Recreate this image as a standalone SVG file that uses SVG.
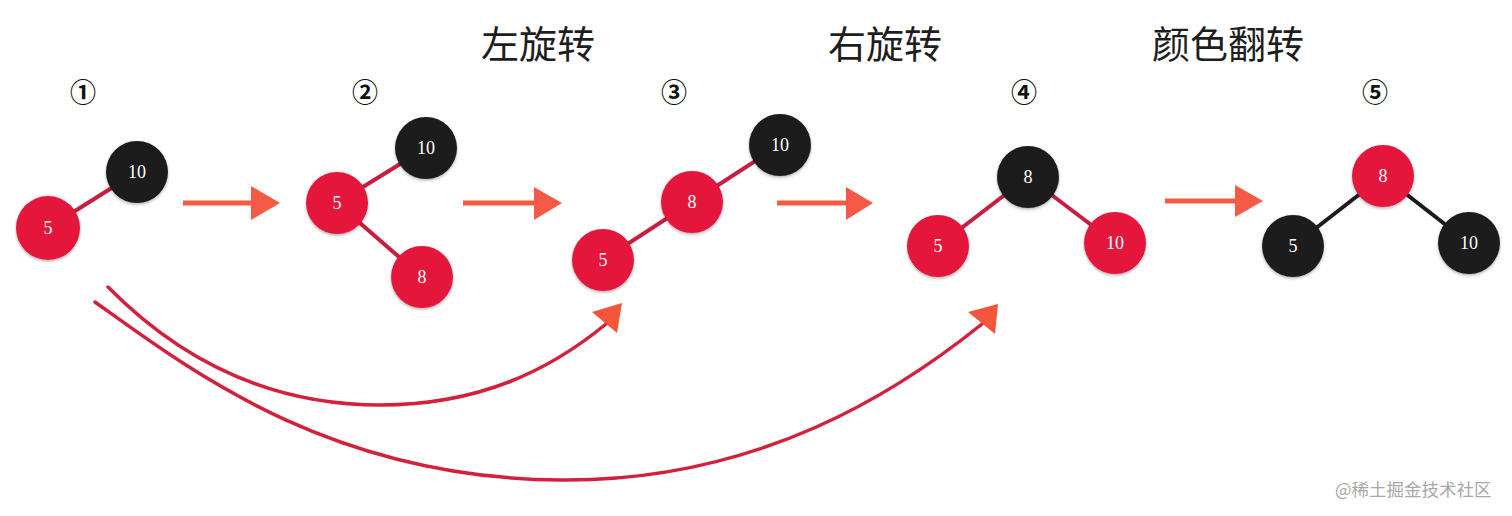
<svg xmlns="http://www.w3.org/2000/svg" width="1512" height="516" viewBox="0 0 1512 516">
<style>
.title{font-family:"Noto Sans CJK SC","Noto Sans",sans-serif;font-size:38px;fill:#1e1e1e;}
.step{font-family:"Noto Sans CJK SC","DejaVu Sans",sans-serif;font-size:26px;font-weight:bold;fill:#111;text-anchor:middle;}
.red{fill:#e4173b;}
.blk{fill:#1b1b1b;}
.lbl{font-family:"Liberation Serif",serif;font-size:18px;fill:#fff;text-anchor:middle;dominant-baseline:central;}
.eR{stroke:#c81d3f;stroke-width:4;}
.eB{stroke:#1b1b1b;stroke-width:4;}
.sa{stroke:#f45a45;stroke-width:5;fill:none;}
.sh{fill:#f45a45;}
.cv{stroke:#d3213c;stroke-width:3.5;fill:none;stroke-linecap:round;}
.ch{fill:#f4553b;}
.wm{font-family:"Noto Sans CJK SC","Noto Sans",sans-serif;font-size:17.5px;fill:#a8a8a8;}
</style>
<defs>
<filter id="sd" x="-30%" y="-30%" width="160%" height="160%">
<feDropShadow dx="0" dy="1.5" stdDeviation="1.5" flood-color="#000" flood-opacity="0.3"/>
</filter>
</defs>
<rect width="1512" height="516" fill="#ffffff"/>

<g id="titles">
<text class="title" x="481" y="58">左旋转</text>
<text class="title" x="828" y="58">右旋转</text>
<text class="title" x="1152" y="58">颜色翻转</text>
</g>
<g id="steps">
<text class="step" x="83" y="102">①</text>
<text class="step" x="365" y="102">②</text>
<text class="step" x="674" y="102">③</text>
<text class="step" x="1024" y="102">④</text>
<text class="step" x="1375" y="102">⑤</text>
</g>

<g id="connectors">
<line class="eR" x1="48" y1="228" x2="137" y2="172"/>
<line class="eR" x1="337" y1="203" x2="426" y2="148"/>
<line class="eR" x1="337" y1="203" x2="422" y2="277"/>
<line class="eR" x1="603" y1="260" x2="692" y2="202"/>
<line class="eR" x1="692" y1="202" x2="780" y2="145"/>
<line class="eR" x1="938" y1="246" x2="1028" y2="177"/>
<line class="eR" x1="1028" y1="177" x2="1115" y2="243"/>
<line class="eB" x1="1293" y1="246" x2="1383" y2="176"/>
<line class="eB" x1="1383" y1="176" x2="1469" y2="243"/>
<line class="sa" x1="183" y1="203" x2="255" y2="203"/>
<polygon class="sh" points="251,186 280,203 251,220"/>
<line class="sa" x1="463" y1="203" x2="538" y2="203"/>
<polygon class="sh" points="534,187 562,203 534,220"/>
<line class="sa" x1="777" y1="203" x2="851" y2="203"/>
<polygon class="sh" points="846,187 873,203 846,220"/>
<line class="sa" x1="1165" y1="201" x2="1239" y2="201"/>
<polygon class="sh" points="1235,185 1263,201 1235,217"/>
<path class="cv" d="M108,287 C180,360 270,405 380,405 C480,405 550,370 606,324"/>
<polygon class="ch" points="622,303 617,333 592,312"/>
<path class="cv" d="M95,302 C190,370 330,478 560,480 C760,482 900,390 982,324"/>
<polygon class="ch" points="998,304 995,334 968,312"/>
</g>

<g id="tree1">
<g id="t1n10"><circle class="blk" cx="137" cy="172" r="31" filter="url(#sd)"/><text class="lbl" x="137" y="172">10</text></g>
<g id="t1n5"><circle class="red" cx="48" cy="228" r="32" filter="url(#sd)"/><text class="lbl" x="48" y="228">5</text></g>
</g>
<g id="tree2">
<g id="t2n10"><circle class="blk" cx="426" cy="148" r="31" filter="url(#sd)"/><text class="lbl" x="426" y="148">10</text></g>
<g id="t2n5"><circle class="red" cx="337" cy="203" r="31" filter="url(#sd)"/><text class="lbl" x="337" y="203">5</text></g>
<g id="t2n8"><circle class="red" cx="422" cy="277" r="31" filter="url(#sd)"/><text class="lbl" x="422" y="277">8</text></g>
</g>
<g id="tree3">
<g id="t3n10"><circle class="blk" cx="780" cy="145" r="31" filter="url(#sd)"/><text class="lbl" x="780" y="145">10</text></g>
<g id="t3n8"><circle class="red" cx="692" cy="202" r="31" filter="url(#sd)"/><text class="lbl" x="692" y="202">8</text></g>
<g id="t3n5"><circle class="red" cx="603" cy="260" r="31" filter="url(#sd)"/><text class="lbl" x="603" y="260">5</text></g>
</g>
<g id="tree4">
<g id="t4n8"><circle class="blk" cx="1028" cy="177" r="31" filter="url(#sd)"/><text class="lbl" x="1028" y="177">8</text></g>
<g id="t4n5"><circle class="red" cx="938" cy="246" r="31" filter="url(#sd)"/><text class="lbl" x="938" y="246">5</text></g>
<g id="t4n10"><circle class="red" cx="1115" cy="243" r="31" filter="url(#sd)"/><text class="lbl" x="1115" y="243">10</text></g>
</g>
<g id="tree5">
<g id="t5n8"><circle class="red" cx="1383" cy="176" r="31" filter="url(#sd)"/><text class="lbl" x="1383" y="176">8</text></g>
<g id="t5n5"><circle class="blk" cx="1293" cy="246" r="31" filter="url(#sd)"/><text class="lbl" x="1293" y="246">5</text></g>
<g id="t5n10"><circle class="blk" cx="1469" cy="243" r="31" filter="url(#sd)"/><text class="lbl" x="1469" y="243">10</text></g>
</g>

<text class="wm" x="1335" y="496">@稀土掘金技术社区</text>
</svg>
